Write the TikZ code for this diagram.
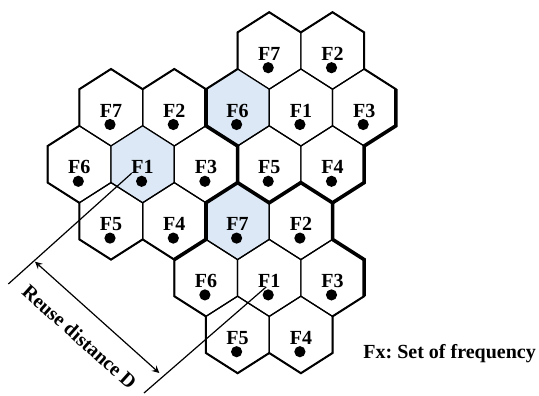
\documentclass[tikz,border=0pt]{standalone}
\usepackage{fontspec}
\setmainfont{Liberation Serif}
\usetikzlibrary{arrows,calc}
\definecolor{cellblue}{RGB}{220,232,245}

\begin{document}
\begin{tikzpicture}[x=0.5pt, y=-0.5pt, >=stealth, font=\bfseries\frenchspacing]
        % Style definitions
        \tikzset{
            hexline/.style={line width=0.6pt, line join=miter},
            outline/.style={line width=1pt, line join=miter},
            border/.style={line width=1.8pt, line join=miter},
            freq/.style={inner sep=0pt},
            site/.style={circle, fill=black, inner sep=0pt, minimum size=5.6pt},
            dim/.style={line width=0.6pt},
            cell/.pic={
                \draw [hexline, pic actions] (0,-38.5) -- (31.65,-18.3) -- (31.65,18.3) -- (0,38.5)
                    -- (-31.65,18.3) -- (-31.65,-18.3) -- cycle;
                \coordinate (-n)  at (0,-38.5);
                \coordinate (-ne) at (31.65,-18.3);
                \coordinate (-se) at (31.65,18.3);
                \coordinate (-s)  at (0,38.5);
                \coordinate (-sw) at (-31.65,18.3);
                \coordinate (-nw) at (-31.65,-18.3);
                \node [freq] (-f) at (0,3) {#1};
                \node [site] (-bs) at (-1,17) {};
            }
        }
        \useasboundingbox (0,0) rectangle (539,395);

        % Cells of the upper cluster
        \pic (b7) at (269.2,50.7) {cell=F7};
        \pic (b2) at (332.5,50.7) {cell=F2};
        \pic [fill=cellblue] (b6) at (237.6,107.5) {cell=F6};
        \pic (b1) at (300.9,107.5) {cell=F1};
        \pic (b3) at (364.2,107.5) {cell=F3};
        \pic (b5) at (269.2,164.3) {cell=F5};
        \pic (b4) at (332.5,164.3) {cell=F4};

        % Cells of the left cluster
        \pic (a7) at (111,107.5) {cell=F7};
        \pic (a2) at (174.3,107.5) {cell=F2};
        \pic (a6) at (79.3,164.3) {cell=F6};
        \pic [fill=cellblue] (a1) at (142.6,164.3) {cell=F1};
        \pic (a3) at (205.9,164.3) {cell=F3};
        \pic (a5) at (111,221.1) {cell=F5};
        \pic (a4) at (174.3,221.1) {cell=F4};

        % Cells of the lower cluster
        \pic [fill=cellblue] (c7) at (237.6,221.1) {cell=F7};
        \pic (c2) at (300.9,221.1) {cell=F2};
        \pic (c6) at (205.9,277.9) {cell=F6};
        \pic (c1) at (269.2,277.9) {cell=F1};
        \pic (c3) at (332.5,277.9) {cell=F3};
        \pic (c5) at (237.6,334.7) {cell=F5};
        \pic (c4) at (300.9,334.7) {cell=F4};

        % Outer edge of the tiling
        \draw [outline] (b7-n) -- (b2-nw) -- (b2-n) -- (b2-ne) -- (b3-n) -- (b3-ne) -- (b3-se)
            -- (b4-ne) -- (b4-se) -- (b4-s) -- (c2-se) -- (c3-ne) -- (c3-se) -- (c3-s) -- (c4-se)
            -- (c4-s) -- (c4-sw) -- (c5-s) -- (c5-sw) -- (c5-nw) -- (c6-sw) -- (c6-nw) -- (a4-sw)
            -- (a5-s) -- (a5-sw) -- (a5-nw) -- (a6-sw) -- (a6-nw) -- (a6-n) -- (a7-nw) -- (a7-n)
            -- (a7-ne) -- (a2-n) -- (a2-ne) -- (b6-n) -- (b7-nw) -- cycle;

        % Cluster borders
        \draw [border] (b6-nw) -- (b6-sw) -- (b6-s) -- (b5-sw) -- (b5-s) -- (b5-se) -- (b4-s)
            -- (b4-se) -- (b4-ne) -- (b3-se) -- (b3-ne);
        \draw [border] (c7-n) -- (c7-nw) -- (c7-sw) -- (c6-nw);
        \draw [border] (c2-ne) -- (c2-se) -- (c3-ne) -- (c3-se);

        % Reuse distance
        \coordinate (e1) at ($(a1-bs)+(-10,-8)$);
        \coordinate (e1end) at (8.3,284);
        \coordinate (e2) at ($(c1-bs)+(-2,-8)$);
        \coordinate (e2end) at (144,393);
        \draw [dim] (e1) -- (e1end);
        \draw [dim] (e2) -- (e2end);
        \coordinate (ra) at (35,261.7);
        \coordinate (rb) at (159.3,373);
        \draw [dim, <->] (ra) -- node [sloped, below=6pt] {Reuse distance D} (rb);

        \node [anchor=base west, inner sep=0pt] (legend) at (363,358) {Fx: Set of frequency};
\end{tikzpicture}
\end{document}
